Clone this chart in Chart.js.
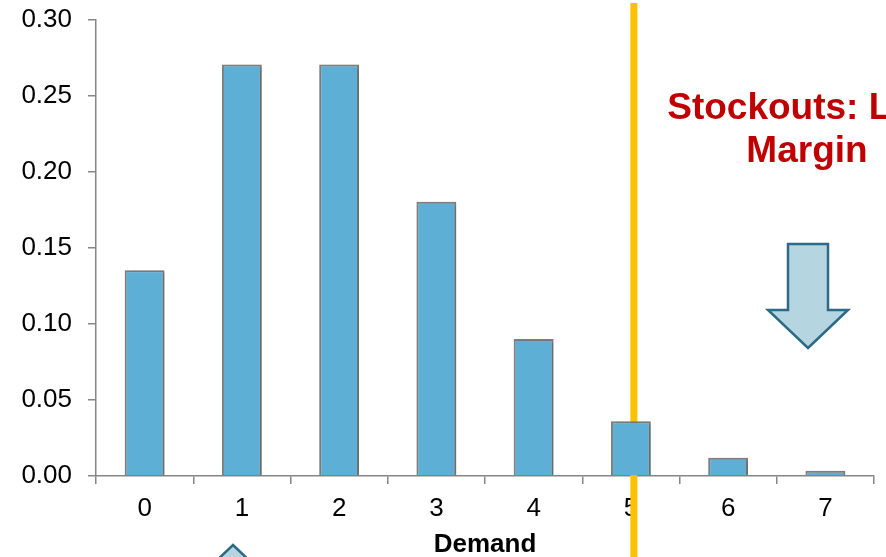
<!DOCTYPE html>
<html>
<head>
<meta charset="utf-8">
<script src="https://cdn.jsdelivr.net/npm/chart.js@4.4.1/dist/chart.umd.min.js"></script>
<style>
  html, body { margin: 0; padding: 0; background: #ffffff; }
  #wrap { width: 886px; height: 557px; position: relative; }
</style>
</head>
<body>
<div id="wrap"><canvas id="c" width="886" height="557"></canvas></div>
<script>
// Demand distribution (Poisson, mean 2)
const demandLevels = ['0', '1', '2', '3', '4', '5', '6', '7'];
const probabilities = [0.1353, 0.2707, 0.2707, 0.1804, 0.0902, 0.0361, 0.0120, 0.0034];
const stockLevel = 5;
const yTicks = [0, 0.05, 0.10, 0.15, 0.20, 0.25, 0.30];
const calloutLines = ['Stockouts: Lost', 'Margin'];

const FONT = '"Liberation Sans", Arial, sans-serif';

// Block arrow used for the callouts
function blockArrow(ctx, cx, tipY, baseY, shaftHalf, headHalf, headLen, dir) {
  ctx.beginPath();
  const hy = tipY - dir * headLen;
  ctx.moveTo(cx, tipY);
  ctx.lineTo(cx + headHalf, hy);
  ctx.lineTo(cx + shaftHalf, hy);
  ctx.lineTo(cx + shaftHalf, baseY);
  ctx.lineTo(cx - shaftHalf, baseY);
  ctx.lineTo(cx - shaftHalf, hy);
  ctx.lineTo(cx - headHalf, hy);
  ctx.closePath();
  ctx.fillStyle = '#B5D5E0';
  ctx.fill();
  ctx.lineWidth = 2.5;
  ctx.strokeStyle = '#2D6A86';
  ctx.lineJoin = 'miter';
  ctx.stroke();
}

const stockLine = {
  id: 'stockLine',
  beforeDatasetsDraw(chart) {
    const ctx = chart.ctx;
    const x = chart.scales.x.getPixelForValue(stockLevel) + 3;
    ctx.save();
    ctx.fillStyle = '#FFC000';
    ctx.fillRect(x - 3.5, 3, 7, chart.height - 3);
    ctx.restore();
  },
  beforeDatasetDraw(chart) {
    const ctx = chart.ctx;
    ctx.save();
    ctx.shadowColor = 'rgba(0,0,0,0.22)';
    ctx.shadowBlur = 4;
    ctx.shadowOffsetX = 2;
    ctx.shadowOffsetY = 1;
  },
  afterDatasetDraw(chart) {
    chart.ctx.restore();
  },
  afterDraw(chart) {
    const ctx = chart.ctx;
    ctx.save();
    ctx.fillStyle = '#C00000';
    ctx.font = 'bold 37px ' + FONT;
    ctx.textAlign = 'center';
    ctx.textBaseline = 'alphabetic';
    ctx.fillText(calloutLines[0], 807, 119);
    ctx.fillText(calloutLines[1], 807, 162);
    blockArrow(ctx, 808, 348, 244, 20, 40, 38, 1);
    blockArrow(ctx, 233, 545, 600, 20, 40, 38, -1);
    ctx.restore();
  }
};

new Chart(document.getElementById('c'), {
  type: 'bar',
  data: {
    labels: demandLevels,
    datasets: [{
      data: probabilities,
      backgroundColor: '#5EAFD6',
      borderColor: '#7F7F7F',
      borderWidth: 2,
      barPercentage: 0.41,
      categoryPercentage: 1.0
    }]
  },
  options: {
    responsive: false,
    animation: false,
    devicePixelRatio: 1,
    layout: { padding: { top: 20, right: 12, left: 0, bottom: 0 } },
    plugins: { legend: { display: false }, tooltip: { enabled: false } },
    scales: {
      x: {
        offset: true,
        grid: {
          display: true,
          offset: true,
          drawOnChartArea: false,
          drawTicks: true,
          tickLength: 8,
          color: '#868686',
          lineWidth: 1.5
        },
        border: { display: true, color: '#868686', width: 1.5 },
        ticks: { color: '#000', font: { family: FONT, size: 26 }, padding: 9, maxRotation: 0 },
        title: {
          display: true,
          text: 'Demand',
          color: '#000',
          font: { family: FONT, size: 26, weight: 'bold' },
          padding: { top: 0, bottom: -3 }
        },
        afterFit(scale) { scale.height = 81; }
      },
      y: {
        min: 0,
        max: 0.3,
        afterBuildTicks(scale) { scale.ticks = yTicks.map(v => ({ value: v })); },
        grid: {
          display: true,
          drawOnChartArea: false,
          drawTicks: true,
          tickLength: 8,
          color: '#868686',
          lineWidth: 1.5
        },
        border: { display: true, color: '#868686', width: 1.5 },
        ticks: {
          color: '#000',
          font: { family: FONT, size: 26, lineHeight: 0.2 },
          padding: 16,
          callback: v => Number(v).toFixed(2)
        },
        afterFit(scale) { scale.width = 96; }
      }
    }
  },
  plugins: [stockLine]
});
</script>
</body>
</html>
